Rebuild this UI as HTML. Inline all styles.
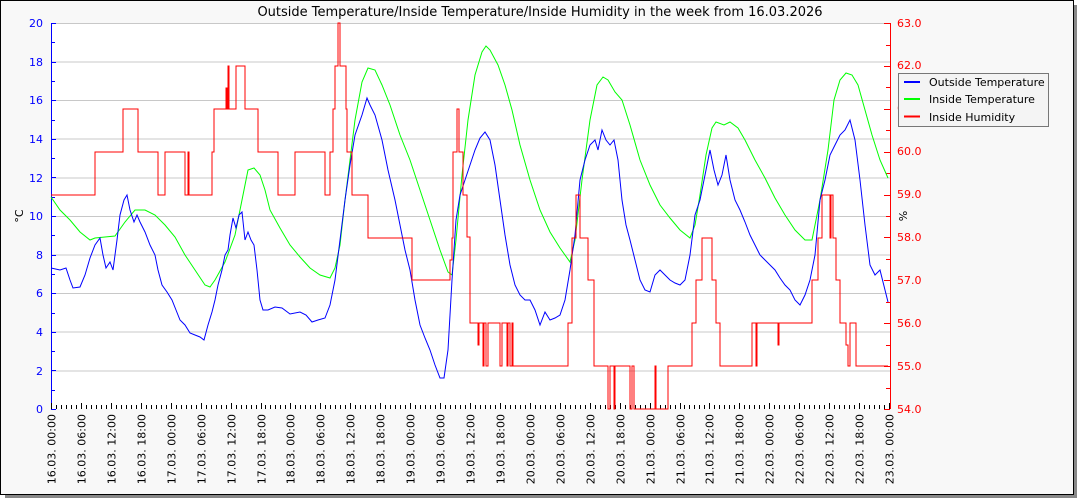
<!DOCTYPE html>
<html><head><style>
html,body{margin:0;padding:0;background:#fff;}
svg{display:block;font-family:"DejaVu Sans","Liberation Sans",sans-serif;}
</style></head><body>
<svg width="1080" height="500" xmlns="http://www.w3.org/2000/svg">
<rect x="5" y="5" width="1072" height="493" fill="#888"/>
<rect x="0.5" y="0.5" width="1073" height="494" fill="#f8f8f8" stroke="#000"/>
<rect x="51" y="23" width="839" height="386" fill="#fff"/>
<g stroke="#c8c8c8" stroke-width="1" shape-rendering="crispEdges">
<line x1="51" x2="890" y1="23.5" y2="23.5"/><line x1="51" x2="890" y1="62" y2="62"/><line x1="51" x2="890" y1="100.5" y2="100.5"/><line x1="51" x2="890" y1="139" y2="139"/><line x1="51" x2="890" y1="178" y2="178"/><line x1="51" x2="890" y1="216.5" y2="216.5"/><line x1="51" x2="890" y1="255" y2="255"/><line x1="51" x2="890" y1="293.5" y2="293.5"/><line x1="51" x2="890" y1="332" y2="332"/><line x1="51" x2="890" y1="371" y2="371"/>
</g>
<text x="540" y="16" font-size="13" text-anchor="middle" fill="#000">Outside Temperature/Inside Temperature/Inside Humidity in the week from 16.03.2026</text>
<line x1="51.5" y1="23" x2="51.5" y2="409" stroke="#00f" shape-rendering="crispEdges"/>
<g font-size="11" fill="#00f" text-anchor="end">
<text x="43" y="413">0</text><text x="43" y="375">2</text><text x="43" y="336">4</text><text x="43" y="297">6</text><text x="43" y="259">8</text><text x="43" y="220">10</text><text x="43" y="182">12</text><text x="43" y="143">14</text><text x="43" y="104">16</text><text x="43" y="66">18</text><text x="43" y="27">20</text>
</g>
<text transform="translate(23,216) rotate(-90)" font-size="11" text-anchor="middle">°C</text>
<line x1="890.5" y1="23" x2="890.5" y2="409" stroke="#f00" shape-rendering="crispEdges"/>
<g font-size="11" fill="#f00">
<text x="897" y="413">54.0</text><text x="897" y="370">55.0</text><text x="897" y="327">56.0</text><text x="897" y="284">57.0</text><text x="897" y="241">58.0</text><text x="897" y="198">59.0</text><text x="897" y="155">60.0</text><text x="897" y="112">61.0</text><text x="897" y="69">62.0</text><text x="897" y="27">63.0</text>
</g>
<text transform="translate(907,216) rotate(-90)" font-size="11" text-anchor="middle">%</text>
<g id="ticks" shape-rendering="crispEdges"></g>
<g id="xl" font-size="11" fill="#000"></g>
<polyline fill="none" stroke="#0f0" stroke-width="1" points="51,197 60,210 70,220 80,232 90,240 95,238 105,237 115,236 125,222 135,210 145,210 155,215 165,225 175,237 185,255 195,270 205,285 210,287 215,280 225,262 235,235 242,200 248,170 254,168 260,175 265,190 270,210 280,228 290,245 300,257 310,268 320,275 330,278 335,268 340,245 345,200 350,160 355,120 362,82 368,68 375,70 382,85 390,105 400,135 410,160 420,190 430,220 440,250 448,272 452,275 456,240 462,175 468,120 475,75 482,52 486,46 490,50 498,65 505,85 512,110 520,145 530,180 540,210 550,232 560,248 570,262 575,240 582,180 590,120 597,85 603,77 608,80 615,92 622,100 630,125 640,160 650,185 660,205 670,218 680,230 690,238 695,225 700,195 706,155 712,128 716,122 724,125 730,122 738,128 745,140 755,160 765,178 775,198 785,215 795,230 805,240 812,240 820,200 828,150 834,100 840,80 846,73 852,75 858,85 865,110 872,135 880,160 888,178"/>
<polyline fill="none" stroke="#00f" stroke-width="1" points="51,268 60,270 66,268 70,280 73,288 80,287 85,275 90,258 95,245 100,238 103,255 106,268 110,262 113,270 117,240 120,215 124,200 127,195 130,210 134,222 137,215 140,222 145,232 150,245 155,255 158,270 162,285 167,292 172,300 176,310 180,320 185,325 190,333 195,335 200,337 204,340 208,325 212,312 215,300 218,285 222,270 225,255 228,250 230,235 233,218 236,228 239,215 242,212 245,240 248,232 251,240 254,245 257,270 260,300 263,310 268,310 275,307 282,308 290,314 300,312 306,315 312,322 318,320 325,318 330,305 335,280 340,240 345,200 350,165 355,135 362,115 367,98 370,105 375,115 382,140 388,170 395,200 400,225 405,250 410,270 415,300 420,325 425,338 430,350 435,365 440,378 444,378 448,350 452,280 456,220 460,195 465,180 470,165 475,150 480,138 485,132 490,140 495,165 500,200 505,235 510,265 515,285 520,295 525,300 530,300 535,310 540,325 545,312 550,320 555,318 560,315 565,300 570,270 575,235 580,180 585,160 590,145 595,140 598,150 602,130 606,140 610,145 614,140 618,160 622,200 626,225 630,240 635,260 640,280 645,290 650,292 655,275 660,270 665,275 670,280 675,283 680,285 685,280 690,255 695,215 700,200 705,175 710,150 714,170 718,185 722,175 726,155 730,180 735,200 740,210 745,222 750,235 755,245 760,255 765,260 770,265 775,270 780,278 785,285 790,290 795,300 800,305 805,295 810,280 815,255 820,200 825,180 830,155 835,145 840,135 845,130 850,120 855,140 860,180 865,225 870,265 875,275 880,270 885,290 888,302"/>
<path fill="none" stroke="#f00" stroke-width="1" shape-rendering="crispEdges" d="M51,195 H95 V152 H123 V109 H138 V152 H158 V195 H165 V152 H185 V195 H188 V152 H189 V195 H212 V152 H214 V109 H226 V88 H227 V109 H228 V66 H229 V109 H236 V66 H245 V109 H258 V152 H278 V195 H295 V152 H325 V195 H330 V152 H333 V109 H335 V66 H338 V23 H340 V66 H346 V109 H347 V152 H352 V195 H368 V238 H412 V280 H450 V260 H452 V238 H453 V152 H457 V109 H459 V152 H463 V195 H467 V237 H470 V323 H478 V345 H479 V323 H483 V366 H484 V323 H486 V366 H488 V323 H500 V366 H502 V323 H507 V366 H508 V323 H510 V366 H512 V323 H513 V366 H568 V323 H572 V238 H576 V195 H580 V238 H588 V280 H594 V366 H608 V409 H610 V366 H614 V409 H615 V366 H630 V409 H632 V366 H634 V409 H655 V366 H656 V409 H668 V366 H692 V323 H696 V280 H702 V238 H712 V280 H716 V323 H720 V366 H752 V323 H756 V366 H757 V323 H778 V345 H779 V323 H812 V280 H818 V238 H822 V195 H830 V238 H831 V195 H833 V238 H836 V280 H840 V323 H846 V345 H848 V366 H850 V323 H856 V366 H888"/>
<rect x="898.5" y="73.5" width="150" height="53" fill="#f4f4f4" stroke="#777"/>
<line x1="904" x2="920" y1="82" y2="82" stroke="#00f" stroke-width="2"/>
<line x1="904" x2="920" y1="99" y2="99" stroke="#0f0" stroke-width="2"/>
<line x1="904" x2="920" y1="116.5" y2="116.5" stroke="#f00" stroke-width="2"/>
<g font-size="11" fill="#000"><text x="929" y="86">Outside Temperature</text><text x="929" y="103">Inside Temperature</text><text x="929" y="121">Inside Humidity</text></g>
<script>
var ns="http://www.w3.org/2000/svg";
function el(p,t,a,txt){var e=document.createElementNS(ns,t);for(var k in a)e.setAttribute(k,a[k]);if(txt)e.textContent=txt;p.appendChild(e);return e;}
var tk=document.getElementById("ticks"),xl=document.getElementById("xl");
for(var i=0;i<=20;i++){var y=Math.round(409-i*19.3)+0.5;el(tk,"line",{x1:51,x2:i%2?55:56,y1:y,y2:y,stroke:"#00f"});}
for(var i=0;i<=18;i++){var y=Math.round(409-i*21.44)+0.5;el(tk,"line",{x1:i%2?886:884,x2:890,y1:y,y2:y,stroke:"#f00"});}
var days=["16","17","18","19","20","21","22","23"],hs=["00:00","06:00","12:00","18:00"];
for(var h=0;h<=168;h++){var x=Math.round(51+h*838/168)+0.5;el(tk,"line",{x1:x,x2:x,y1:409,y2:h%6?405:403,stroke:"#000"});
if(h%6==0){var d=days[Math.floor(h/24)],hh=hs[(h%24)/6];el(xl,"text",{transform:"translate("+(x+4)+",414) rotate(-90)","text-anchor":"end"},d+".03. "+hh);}}
</script>
</svg>
</body></html>
